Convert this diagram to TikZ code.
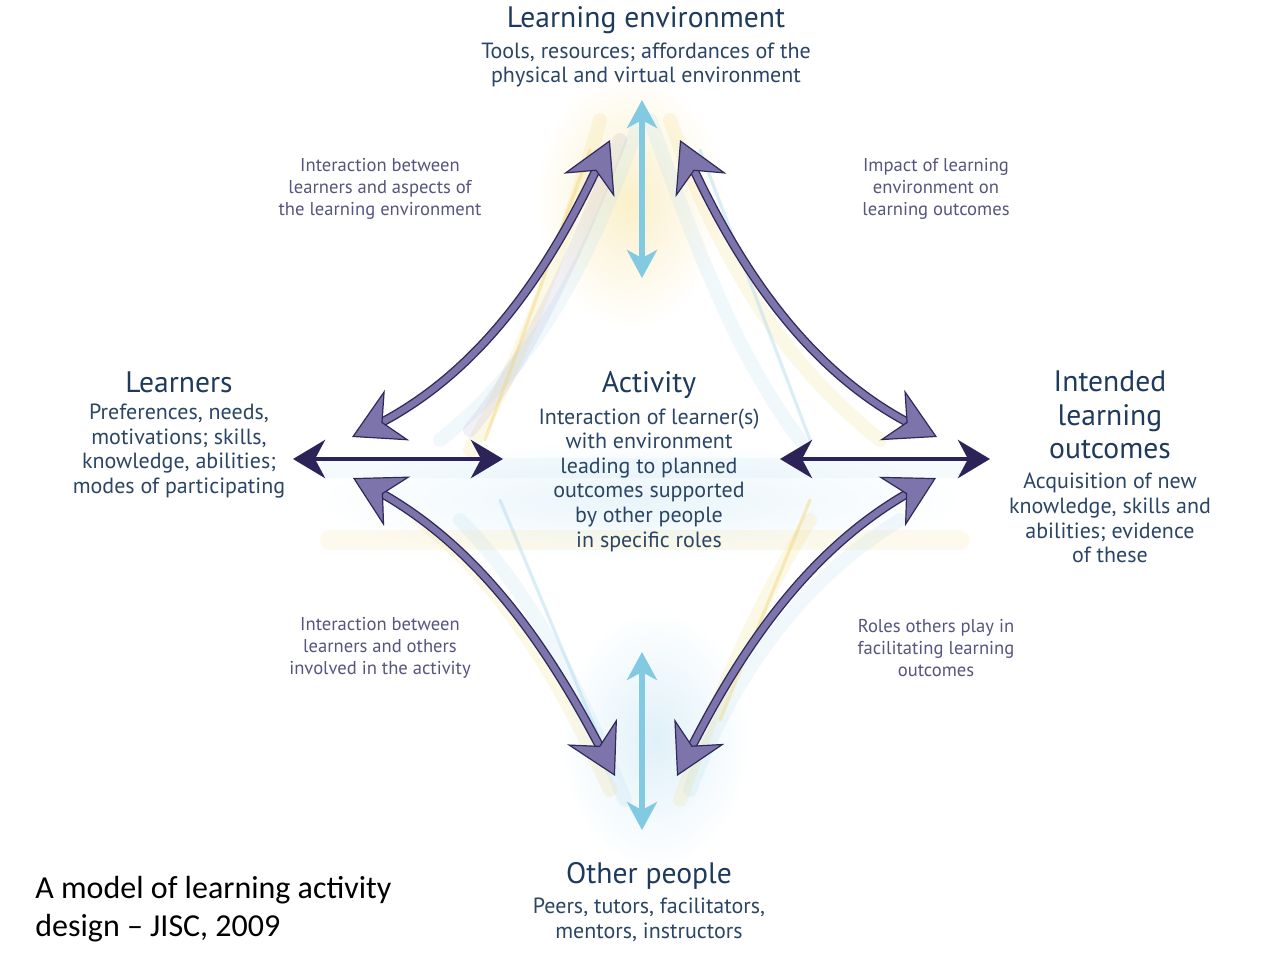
\documentclass[tikz,border=0pt]{standalone}
\usepackage{fontspec}
\setmainfont{PT Sans}
\newfontfamily\captionfont{Carlito}
\usetikzlibrary{arrows.meta,positioning}

\definecolor{headblue}{HTML}{1E3A5C}
\definecolor{bodyblue}{HTML}{2B4565}
\definecolor{notegrey}{HTML}{56557F}
\definecolor{purpfill}{HTML}{7C74AA}
\definecolor{purpline}{HTML}{2E2A5A}
\definecolor{navy}{HTML}{2C2358}
\definecolor{skyblue}{HTML}{82C9E2}
\definecolor{glowyellow}{HTML}{F2D469}
\definecolor{glowblue}{HTML}{A6D6EC}
\definecolor{glowpurple}{HTML}{A9A3CC}

\tikzset{
  heading/.style={text=headblue, font=\fontsize{14.8}{16.8}\selectfont, align=center, inner sep=0pt},
  bodytext/.style={text=bodyblue, font=\fontsize{11}{12.3}\selectfont, align=center, inner sep=0pt},
  note/.style={text=notegrey, font=\fontsize{9.3}{11}\selectfont, align=center, inner sep=0pt},
  purptip/.tip={Stealth[length=25pt, width=28pt, inset=8pt, fill=purpfill, color=purpline, line width=0.6pt]},
  purplearrow/.style={draw=purpfill, line width=0.4pt, purptip-purptip,
    preaction={draw=purpline, line width=4.6pt, -, shorten <=10pt, shorten >=10pt},
    preaction={draw=purpfill, line width=3.2pt, -, shorten <=10pt, shorten >=10pt}},
  navyarrow/.style={draw=navy, line width=2.4pt,
    {Stealth[length=16pt, width=19pt, inset=5pt]}-{Stealth[length=16pt, width=19pt, inset=5pt]}},
  bluearrow/.style={draw=skyblue, line width=2.6pt,
    {Stealth[length=14pt, width=15pt, inset=4pt]}-{Stealth[length=14pt, width=15pt, inset=4pt]}},
  glow/.style={line width=7pt, opacity=.16, line cap=round},
  thinglow/.style={line width=1.6pt, opacity=.4, line cap=round}
}

\begin{document}
\begin{tikzpicture}[x=0.5pt,y=-0.5pt]
    \useasboundingbox[fill=white] (0,0) rectangle (1280,960);

    % Soft glow
    \shade[inner color=glowyellow!35, outer color=white] (630,200) ellipse [x radius=95, y radius=130];
    \shade[inner color=glowblue!35, outer color=white] (655,740) ellipse [x radius=95, y radius=130];
    \shade[inner color=glowblue!25, outer color=white] (640,500) ellipse [x radius=330, y radius=60];
    \draw[glow, glowyellow] (600,120) .. controls (560,260) and (520,360) .. (470,450);
    \draw[glow, glowblue] (640,120) .. controls (590,260) and (540,360) .. (440,440);
    \draw[glow, glowpurple] (620,140) .. controls (570,270) and (520,370) .. (470,430);
    \draw[thinglow, glowyellow] (590,150) -- (485,440);
    \draw[glow, glowyellow] (670,120) .. controls (720,260) and (780,360) .. (880,440);
    \draw[glow, glowblue] (650,120) .. controls (700,260) and (740,360) .. (800,440);
    \draw[thinglow, glowblue] (700,150) -- (810,440);
    \draw[glow, glowyellow] (420,520) .. controls (500,580) and (560,680) .. (610,790);
    \draw[glow, glowblue] (460,520) .. controls (530,590) and (580,690) .. (625,800);
    \draw[thinglow, glowblue] (500,500) -- (600,740);
    \draw[glow, glowblue] (900,520) .. controls (800,580) and (730,680) .. (690,790);
    \draw[glow, glowyellow] (810,520) .. controls (760,600) and (720,690) .. (680,800);
    \draw[thinglow, glowyellow] (810,500) -- (720,720);
    \draw[glow, glowblue, opacity=.1, line width=10pt] (330,468) -- (960,468);
    \draw[glow, glowyellow, opacity=.12, line width=10pt] (330,540) -- (960,540);

    % Arrow ends
    \coordinate (tl-top) at (610,140);
    \coordinate (tl-bot) at (352,437);
    \coordinate (tr-top) at (680,140);
    \coordinate (tr-bot) at (937,437);
    \coordinate (bl-top) at (353,478);
    \coordinate (bl-bot) at (615,776);
    \coordinate (br-top) at (936,478);
    \coordinate (br-bot) at (677,776);
    \coordinate (l-left) at (293,459);
    \coordinate (l-right) at (503,459);
    \coordinate (r-left) at (780,459);
    \coordinate (r-right) at (990,459);
    \coordinate (t-up) at (642,100);
    \coordinate (t-down) at (642,278);
    \coordinate (b-up) at (642,652);
    \coordinate (b-down) at (642,830);

    % Arrows
    \draw[bluearrow] (t-up) -- (t-down);
    \draw[bluearrow] (b-up) -- (b-down);
    \draw[navyarrow] (l-left) -- (l-right);
    \draw[navyarrow] (r-left) -- (r-right);
    \draw[purplearrow] (tl-top) .. controls (550,270) and (480,375) .. (tl-bot);
    \draw[purplearrow] (tr-top) .. controls (740,270) and (810,375) .. (tr-bot);
    \draw[purplearrow] (bl-top) .. controls (480,545) and (550,650) .. (bl-bot);
    \draw[purplearrow] (br-top) .. controls (810,545) and (740,650) .. (br-bot);

    % Headings
    \node[heading] (env) at (646,20) {Learning environment};
    \node[heading] (learners) at (179,382) {Learners};
    \node[heading] (activity) at (649,385) {Activity};
    \node[heading] (outcomes) at (1110,415) {Intended\\learning\\outcomes};
    \node[heading] (others) at (649,876) {Other people};

    % Descriptions
    \node[bodytext] (envtext) at (646,65) {Tools, resources; affordances of the\\physical and virtual environment};
    \node[bodytext] (learnerstext) at (179,451) {Preferences, needs,\\motivations; skills,\\knowledge, abilities;\\modes of participating};
    \node[bodytext] (activitytext) at (649,480) {Interaction of learner(s)\\with environment\\leading to planned\\outcomes supported\\by other people\\in specific roles};
    \node[bodytext] (outcomestext) at (1110,518) {Acquisition of new\\knowledge, skills and\\abilities; evidence\\of these};
    \node[bodytext] (otherstext) at (649,920) {Peers, tutors, facilitators,\\mentors, instructors};

    % Notes
    \node[note] (note-tl) at (380,189) {Interaction between\\learners and aspects of\\the learning environment};
    \node[note] (note-tr) at (936,189) {Impact of learning\\environment on\\learning outcomes};
    \node[note] (note-bl) at (380,648) {Interaction between\\learners and others\\involved in the activity};
    \node[note] (note-br) at (936,648) {Roles others play in\\facilitating learning\\outcomes};

    % Caption
    \node[anchor=west, align=left, inner sep=0pt, font=\captionfont\fontsize{16}{19}\selectfont] (caption) at (35,909) {A model of learning activity\\design – JISC, 2009};
\end{tikzpicture}
\end{document}
